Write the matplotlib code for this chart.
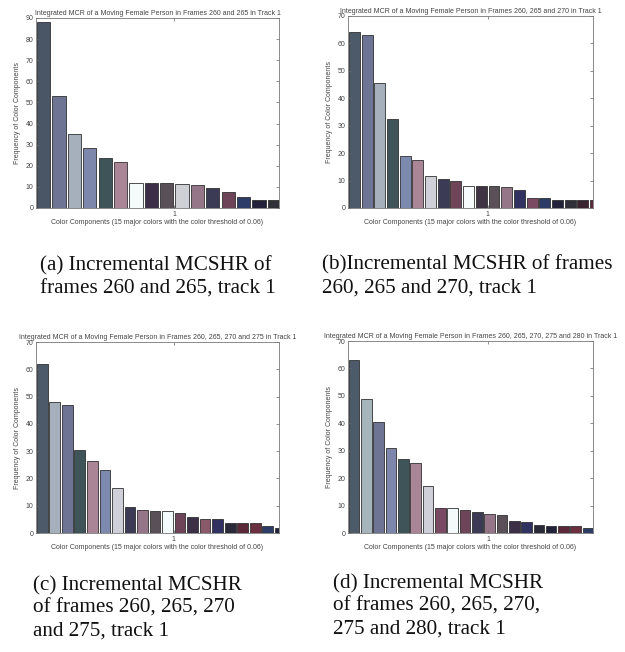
import matplotlib
matplotlib.use("Agg")
import matplotlib.pyplot as plt
import numpy as np

W, H = 625, 652

titles = [
    "Integrated MCR of a Moving Female Person in Frames 260 and 265 in Track 1",
    "Integrated MCR of a Moving Female Person in Frames 260, 265 and 270 in Track 1",
    "Integrated MCR of a Moving Female Person in Frames 260, 265, 270 and 275 in Track 1",
    "Integrated MCR of a Moving Female Person in Frames 260, 265, 270, 275 and 280 in Track 1",
]
xlabel = "Color Components (15 major colors with the color threshold of 0.06)"
ylabel = "Frequency of Color Components"
xtick_label = "1"

captions = [
    ["(a) Incremental MCSHR of", "frames 260 and 265, track 1"],
    ["(b)Incremental MCSHR of frames", "260, 265 and 270, track 1"],
    ["(c) Incremental MCSHR", "of frames 260, 265, 270", "and 275, track 1"],
    ["(d) Incremental MCSHR", "of frames 260, 265, 270,", "275 and 280, track 1"],
]

values_a = [88, 53, 35, 28.5, 23.5, 22, 12, 12, 12, 11.5, 11, 9.5, 7.5, 5, 4, 4]
colors_a = ["#4a5566", "#6e7594", "#a6b0bc", "#7d86ab", "#3f5459", "#a98595",
            "#f4fafa", "#3b2e48", "#5a5058", "#cfcfd6", "#957588", "#3c3b55",
            "#6e4558", "#2d3c66", "#22223a", "#2f3038"]

values_b = [64, 63, 45.5, 32.5, 19, 17.5, 11.5, 10.5, 10, 8, 8, 8, 7.5, 6.5,
            3.5, 3.5, 3, 3, 3, 3]
colors_b = ["#4d5a6a", "#6e7594", "#a6b0bc", "#3f5459", "#7d8ab0", "#a98595",
            "#d0d0d8", "#3c3b55", "#6e4558", "#f8fbfb", "#3f3443", "#5a5058",
            "#957588", "#323262", "#7a4a62", "#2d3c66", "#22223a", "#2f3038",
            "#3a2430", "#5a2a38"]

values_c = [62, 48, 47, 30.5, 26.5, 23, 16.5, 9.5, 8.5, 8, 8, 7.5, 6, 5, 5,
            3.5, 3.5, 3.5, 2.5, 2]
colors_c = ["#4d5a6a", "#a6b0bc", "#6e7594", "#3f5459", "#a98595", "#7d8ab0",
            "#cfcfd9", "#3c3b55", "#957588", "#5a5058", "#f4fafa", "#6e4558",
            "#3b3046", "#8a5a6a", "#323262", "#2a2a38", "#5a2838", "#6a3040",
            "#2d3c66", "#22223a"]

values_d = [63, 49, 40.5, 31, 27, 25.5, 17, 9, 9, 8.5, 7.5, 7, 6.5, 4.5, 4,
            3, 2.5, 2.5, 2.5, 2]
colors_d = ["#4d5a6a", "#a6b4bc", "#6e7594", "#7d86ab", "#3f5459", "#a98595",
            "#cfcfd9", "#7a4a62", "#f4fafa", "#6e4558", "#3c3b55", "#957588",
            "#5a5058", "#3b3046", "#323262", "#2a2a38", "#22223a", "#5a2838",
            "#6a3040", "#2d3c66"]

ymaxes = [90, 70, 70, 70]

# layout (pixel boxes: left, right, top, bottom) and view settings
boxes = [(36, 279, 18, 208), (348, 593, 16, 208),
         (36, 279, 342, 533), (348, 593, 341, 533)]
xlims = [(-0.5, 15.3), (-0.5, 18.8), (-0.5, 18.9), (-0.5, 19.4)]
tickpos = [8.5, 10.5, 10.5, 10.9]
# first-line baseline (px) and line step (px)
cap_pos = [(40, 270), (322, 269), (33, 590), (333, 588)]
line_steps = [24.0, 24.0, 23.0, 23.0]

fig = plt.figure(figsize=(W / 100, H / 100), dpi=100)
fig.patch.set_facecolor("white")

data = [(values_a, colors_a), (values_b, colors_b),
        (values_c, colors_c), (values_d, colors_d)]

txt = "#444444"
for i, (vals, cols) in enumerate(data):
    l, r, t, b = boxes[i]
    ax = fig.add_axes([l / W, 1 - b / H, (r - l) / W, (b - t) / H])
    x = np.arange(len(vals))
    ax.bar(x, vals, width=0.86, color=cols, edgecolor="#303030", linewidth=0.6)
    ax.set_xlim(*xlims[i])
    ax.set_ylim(0, ymaxes[i])
    ax.set_yticks(np.arange(0, ymaxes[i] + 1, 10))
    ax.set_xticks([tickpos[i]])
    ax.set_xticklabels([xtick_label])
    ax.tick_params(direction="in", length=2, width=0.5, labelsize=5,
                   colors="#666666", labelcolor=txt, top=True, right=True, pad=2)
    for s in ax.spines.values():
        s.set_color("#777777")
        s.set_linewidth(0.6)
    ax.set_title(titles[i], fontsize=5, color=txt, pad=2.5,
                 family="Liberation Sans")
    ax.set_xlabel(xlabel, fontsize=5, color=txt, labelpad=1,
                  family="Liberation Sans")
    ax.set_ylabel(ylabel, fontsize=5, color=txt, labelpad=3,
                  family="Liberation Sans")
    for lab in ax.get_xticklabels() + ax.get_yticklabels():
        lab.set_family("Liberation Sans")

for (cx, cy), lines, step in zip(cap_pos, captions, line_steps):
    for j, line in enumerate(lines):
        fig.text(cx / W, 1 - (cy + j * step) / H, line, ha="left",
                 va="baseline", fontsize=15.2, family="Liberation Serif",
                 color="#111111")

fig.savefig("out.png", dpi=100)
